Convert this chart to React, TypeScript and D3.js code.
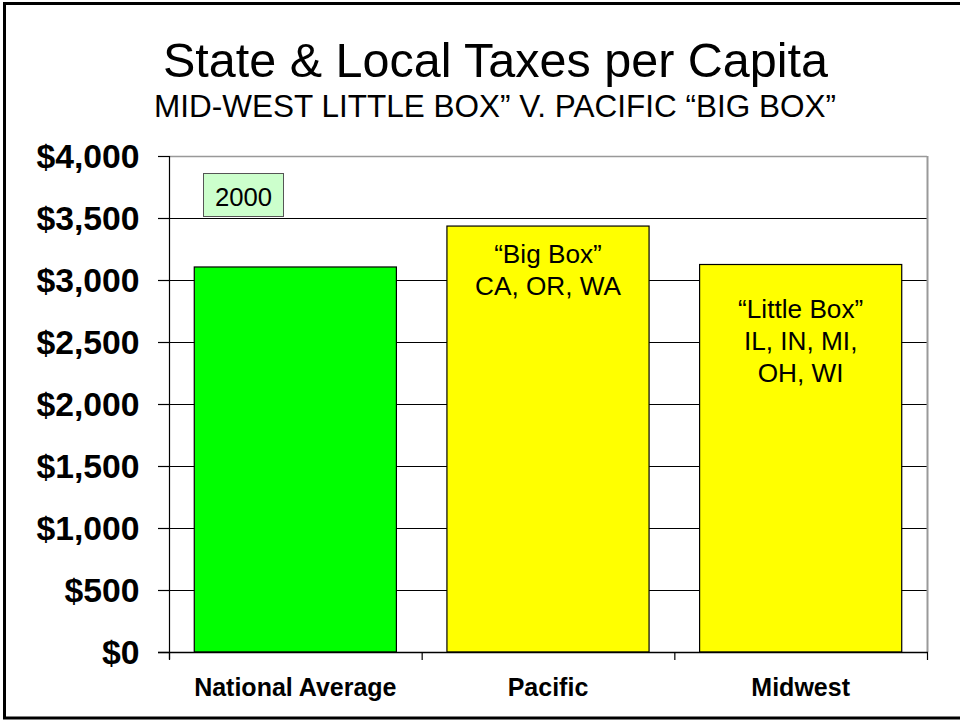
import React from "react";
import * as d3 from "d3";

const categories = ["National Average", "Pacific", "Midwest"];
const values = [3105, 3435, 3125];
const yTickValues = [0, 500, 1000, 1500, 2000, 2500, 3000, 3500, 4000];
const barNotes: string[][] = [[], ["\u201CBig Box\u201D", "CA, OR, WA"], ["\u201CLittle Box\u201D", "IL, IN, MI,", "OH, WI"]];
const yearLabel = "2000";
const title = "State & Local Taxes per Capita";
const subtitle = "MID-WEST LITTLE BOX\u201D V. PACIFIC \u201CBIG BOX\u201D";

const barColors = ["#00ff00", "#ffff00", "#ffff00"];
const noteOffsets = [0, 37, 53];

const W = 960;
const H = 721;
const plot = { left: 169, right: 927, top: 156, bottom: 652 };
const FONT = "'Liberation Sans', Arial, Helvetica, sans-serif";

export default function App() {
  const x = d3
    .scaleBand<string>()
    .domain(categories)
    .range([plot.left, plot.right])
    .paddingInner(0.2)
    .paddingOuter(0.1);
  const y = d3.scaleLinear().domain([0, 4000]).range([plot.bottom, plot.top]);
  const fmt = (v: number) => "$" + d3.format(",")(v);
  const step = x.step();
  const xTickPos = d3.range(categories.length + 1).map((i) => plot.left + i * step);

  return (
    <svg
      width={W}
      height={H}
      style={{ position: "absolute", left: 0, top: 0, background: "#fff" }}
      fontFamily={FONT}
    >
      <rect x={0} y={0} width={W} height={H} fill="#fff" />
      {/* outer frame */}
      <rect x={4.5} y={3.5} width={W + 20} height={714.5} fill="none" stroke="#000" strokeWidth={3} />

      {/* titles */}
      <text x={495.5} y={77} textAnchor="middle" fontSize={48.5}>
        {title}
      </text>
      <text x={495} y={117} textAnchor="middle" fontSize={31.5}>
        {subtitle}
      </text>

      {/* gridlines */}
      {yTickValues
        .filter((v) => v > 0 && v < 4000)
        .map((v) => (
          <line key={"g" + v} x1={plot.left} x2={plot.right} y1={Math.round(y(v)) + 0.5} y2={Math.round(y(v)) + 0.5} stroke="#000" strokeWidth={1} />
        ))}
      {/* plot border top and right */}
      <line x1={plot.left} x2={plot.right} y1={plot.top + 0.5} y2={plot.top + 0.5} stroke="#999" strokeWidth={1.5} />
      <line x1={plot.right + 0.5} x2={plot.right + 0.5} y1={plot.top} y2={plot.bottom} stroke="#999" strokeWidth={2} />

      {/* bars */}
      {categories.map((c, i) => (
        <rect
          key={c}
          x={x(c)}
          y={y(values[i])}
          width={x.bandwidth()}
          height={plot.bottom - y(values[i])}
          fill={barColors[i]}
          stroke="#000"
          strokeWidth={1.2}
        />
      ))}

      {/* bar notes */}
      {categories.map((c, i) =>
        barNotes[i].map((line, j) => (
          <text
            key={c + j}
            x={(x(c) as number) + x.bandwidth() / 2}
            y={y(values[i]) + noteOffsets[i] + j * 32}
            textAnchor="middle"
            fontSize={26.2}
          >
            {line}
          </text>
        ))
      )}

      {/* year label */}
      <rect x={203.5} y={173.5} width={80} height={43} fill="#ccffcc" stroke="#555" strokeWidth={1} />
      <text x={243.5} y={205.5} textAnchor="middle" fontSize={25.7}>
        {yearLabel}
      </text>

      {/* y axis */}
      <line x1={plot.left + 0.5} x2={plot.left + 0.5} y1={plot.top} y2={plot.bottom + 7} stroke="#000" strokeWidth={1.2} />
      {yTickValues.map((v) => (
        <g key={"t" + v}>
          <line x1={158} x2={plot.left} y1={Math.round(y(v)) + 0.5} y2={Math.round(y(v)) + 0.5} stroke="#000" strokeWidth={1.2} />
          <text x={139.5} y={y(v) + 12} textAnchor="end" fontSize={33.7} fontWeight="bold">
            {fmt(v)}
          </text>
        </g>
      ))}

      {/* x axis */}
      <line x1={158} x2={plot.right + 1} y1={plot.bottom + 0.5} y2={plot.bottom + 0.5} stroke="#000" strokeWidth={1.5} />
      {xTickPos.map((px, i) => (
        <line key={"xt" + i} x1={px + 0.5} x2={px + 0.5} y1={plot.bottom} y2={plot.bottom + 8} stroke="#000" strokeWidth={1.2} />
      ))}
      {categories.map((c) => (
        <text
          key={"xl" + c}
          x={(x(c) as number) + x.bandwidth() / 2}
          y={696}
          textAnchor="middle"
          fontSize={25}
          fontWeight="bold"
        >
          {c}
        </text>
      ))}
    </svg>
  );
}
